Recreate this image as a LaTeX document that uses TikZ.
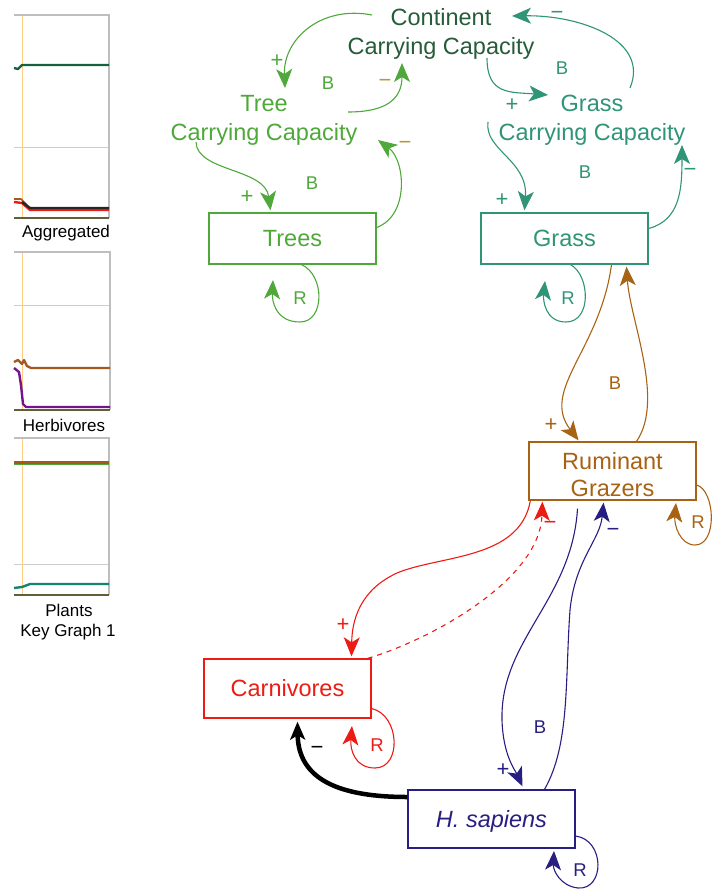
\documentclass[tikz,border=0pt]{standalone}
\usepackage{fontspec}
\setmainfont{Liberation Sans}
\usetikzlibrary{arrows.meta,calc}

\definecolor{contc}{RGB}{38,92,58}
\definecolor{treec}{RGB}{78,168,58}
\definecolor{grassc}{RGB}{48,148,118}
\definecolor{rumc}{RGB}{168,98,20}
\definecolor{carnc}{RGB}{236,28,20}
\definecolor{homoc}{RGB}{40,30,130}
\definecolor{olivec}{RGB}{176,156,56}
\definecolor{framec}{RGB}{190,190,190}
\definecolor{gridc}{RGB}{205,205,205}
\definecolor{timec}{RGB}{255,205,130}
\definecolor{plotgreen}{RGB}{20,98,62}
\definecolor{plotbrown}{RGB}{165,88,30}
\definecolor{plotpurple}{RGB}{118,20,140}
\definecolor{plotteal}{RGB}{22,130,118}
\definecolor{axisc}{RGB}{95,95,60}

\newcommand{\bigfont}{\fontsize{23.5}{29}\selectfont}
\newcommand{\smallfont}{\fontsize{17}{22}\selectfont}
\newcommand{\tagfont}{\fontsize{18.5}{22}\selectfont}
\newcommand{\signfont}{\fontsize{22}{22}\selectfont}

\begin{document}
\begin{tikzpicture}[x=1pt,y=-1pt,
  stockbox/.style={draw, line width=1.3pt, minimum width=167pt, inner sep=0pt, font=\bigfont, align=center},
  varlabel/.style={font=\bigfont, align=center, inner sep=0pt},
  conn/.style={line width=1.1pt, -{Stealth[length=19pt,width=16pt,inset=5pt]}},
  tag/.style={font=\tagfont, inner sep=0pt},
  sign/.style={font=\signfont, inner sep=0pt},
  graphlabel/.style={font=\smallfont, inner sep=0pt, align=center},
  plotline/.style={line width=2.4pt, line join=round}
]
\useasboundingbox (0,0) rectangle (712,890);

% ---------- small time-series panels on the left ----------
% Aggregated
\draw[gridc, line width=1pt] (14,148) -- (109,148);
\draw[timec, line width=1pt] (22.5,15) -- (22.5,218);
\draw[framec, line width=1.2pt] (14,15) -- (109,15) -- (109,218);
\draw[axisc, line width=1.2pt] (14,218) -- (109,218);
\draw[plotline, plotgreen] (14,68) -- (18,69) -- (22,65) -- (109,65);
\draw[plotline, carnc] (14,202) -- (22,203) -- (30,210) -- (109,210);
\draw[plotline, plotbrown, line width=1.6pt] (14,199) -- (21,199) -- (27,205);
\draw[plotline, black!85] (22,202) -- (30,208) -- (109,208);
\node[graphlabel] (lblagg) at (66,233) {Aggregated};

% Herbivores
\draw[gridc, line width=1pt] (14,305) -- (110,305);
\draw[timec, line width=1pt] (22.5,252) -- (22.5,410);
\draw[framec, line width=1.2pt] (14,252) -- (110,252) -- (110,410);
\draw[axisc, line width=1.2pt] (14,410) -- (110,410);
\draw[plotline, plotpurple] (14,368) -- (19,372) -- (21,385) -- (23,404) -- (26,407) -- (110,407);
\draw[plotline, plotbrown] (14,362) -- (18,360) -- (22,364) -- (24,360) -- (27,366) -- (31,368) -- (110,368);
\node[graphlabel] (lblherb) at (64,425) {Herbivores};

% Plants
\draw[gridc, line width=1pt] (14,564) -- (109,564);
\draw[timec, line width=1pt] (22.5,438) -- (22.5,595);
\draw[framec, line width=1.2pt] (14,438) -- (109,438) -- (109,595);
\draw[axisc, line width=1.2pt] (14,595) -- (109,595);
\draw[plotline, treec, line width=1.5pt] (14,464.5) -- (109,464.5);
\draw[plotline, plotbrown] (14,462.5) -- (109,462.5);
\draw[plotline, plotteal] (14,588) -- (22,587) -- (30,584) -- (109,584);
\node[graphlabel] (lblplants) at (69,610) {Plants};
\node[graphlabel] (lblkey) at (68,632) {Key Graph 1};

% ---------- stocks ----------
\node[stockbox, treec, minimum height=51pt] (trees) at (292.5,238.5) {Trees};
\node[stockbox, grassc, minimum height=51pt] (grass) at (564.5,238.5) {Grass};
\node[stockbox, rumc, minimum height=58pt, text height=50pt, text depth=0pt,
      font=\fontsize{23.5}{27}\selectfont] (rum) at (612.5,471) {Ruminant\\Grazers};
\node[stockbox, homoc, minimum height=58pt, text depth=0pt] (homo) at (491.5,819) {\itshape H. sapiens};
\node[stockbox, carnc, minimum height=59pt] (carn) at (287.5,688.5) {Carnivores};

% ---------- auxiliary variables ----------
\node[varlabel, contc] (contcc) at (441,34) {Continent\\Carrying Capacity};
\node[varlabel, treec] (treecc) at (264,120) {Tree\\Carrying Capacity};
\node[varlabel, grassc] (grasscc) at (592,120) {Grass\\Carrying Capacity};

% ---------- tree loop ----------
\draw[conn, treec] ($(contcc)+(-69,-19)$) .. controls (320,5) and (283,40) .. ($(treecc)+(21,-32)$);
\draw[conn, treec] ($(treecc)+(84,-8)$) .. controls (385,112) and (402,100) .. ($(contcc)+(-39,29)$);
\draw[conn, treec] ($(treecc)+(-68,22)$) .. controls (197,172) and (265,168) .. ($(trees.north)+(-22,-2)$);
\draw[conn, treec] ($(trees.east)+(0,-11)$) .. controls (410,215) and (405,160) .. ($(treecc)+(114,20)$);
\draw[conn, treec] ($(trees.south)+(9,0)$) .. controls (325,275) and (325,322) .. (300,322)
  .. controls (275,322) and (272,300) .. (273,280);

% ---------- grass loop ----------
\draw[conn, grassc] ($(contcc)+(46,24)$) .. controls (487,95) and (510,92) .. ($(grasscc)+(-44,-25)$);
\draw[conn, grassc] ($(grasscc)+(38,-32)$) .. controls (650,40) and (580,15) .. ($(contcc)+(71,-18)$);
\draw[conn, grassc] ($(grasscc)+(-104,2)$) .. controls (484,150) and (528,160) .. ($(grass.north)+(-40,-2)$);
\draw[conn, grassc] ($(grass.east)+(0,-10)$) .. controls (680,220) and (682,190) .. ($(grasscc)+(90,25)$);
\draw[conn, grassc] ($(grass.south)+(6,0)$) .. controls (590,275) and (592,322) .. (566,322)
  .. controls (545,322) and (543,300) .. (545,281);

% ---------- grazers ----------
\draw[conn, rumc] ($(grass.south)+(47,0)$) .. controls (600,350) and (540,390) .. ($(rum.north)+(-34,-1)$);
\draw[conn, rumc] ($(rum.north)+(24,0)$) .. controls (665,400) and (630,320) .. ($(grass.south)+(62,2)$);
\draw[conn, rumc] ($(rum.east)+(0,14)$) .. controls (715,490) and (718,545) .. (695,545)
  .. controls (680,545) and (674,525) .. (676,503);

% ---------- carnivores ----------
\draw[conn, carnc] ($(rum.south west)+(2,0)$) .. controls (520,560) and (440,555) .. (397,573)
  .. controls (360,590) and (352,620) .. ($(carn.north)+(64,-2)$);
\draw[conn, carnc, dashed, dash pattern=on 5pt off 5pt] ($(carn.north east)+(-4,0)$) .. controls (430,640) and (540,580) .. ($(rum.south west)+(14,1)$);
\draw[conn, carnc] ($(carn.east)+(0,20)$) .. controls (400,715) and (402,768) .. (375,768)
  .. controls (355,768) and (350,750) .. (352,726);

% ---------- humans ----------
\draw[conn, homoc] ($(rum.south)+(-35,8)$) .. controls (572,600) and (500,640) .. (502,720)
  .. controls (503,755) and (515,770) .. ($(homo.north)+(31,-3)$);
\draw[conn, homoc] ($(homo.north)+(53,0)$) .. controls (570,745) and (565,680) .. (570,610)
  .. controls (575,560) and (600,540) .. ($(rum.south)+(-9,2)$);
\draw[conn, homoc] ($(homo.east)+(0,17)$) .. controls (605,840) and (605,890) .. (578,888)
  .. controls (560,886) and (553,870) .. (554,851);
\draw[line width=4.5pt, black, -{Stealth[length=18pt,width=15pt,inset=4.5pt]}]
  ($(homo.west)+(0,-22)$) .. controls (340,797) and (298,780) .. ($(carn.south)+(10,3)$);

% ---------- polarity and loop tags ----------
\node[sign, treec] (p1) at (277,61) {+};
\node[tag, treec] (b1) at (328,83) {B};
\node[sign, olivec] (m1) at (385,83) {−};
\node[tag, treec] (b2) at (312,183) {B};
\node[sign, treec] (p2) at (247,197) {+};
\node[sign, olivec] (m2) at (405,145) {−};
\node[tag, treec] (r1) at (300,298) {R};

\node[tag, grassc] (b3) at (562,68) {B};
\node[sign, grassc] (m3) at (557,15) {−};
\node[sign, grassc] (p3) at (512,105) {+};
\node[tag, grassc] (b4) at (585,172) {B};
\node[sign, grassc] (p4) at (502,200) {+};
\node[sign, grassc] (m4) at (690,172) {−};
\node[tag, grassc] (r2) at (568,298) {R};

\node[sign, rumc] (p5) at (551,425) {+};
\node[tag, rumc] (b5) at (615,383) {B};
\node[tag, rumc] (r3) at (698,522) {R};

\node[sign, carnc] (p6) at (343,625) {+};
\node[sign, carnc] (m5) at (550,525) {−};
\node[tag, carnc] (r4) at (377,745) {R};

\node[sign, homoc] (p7) at (503,770) {+};
\node[sign, homoc] (m6) at (613,532) {−};
\node[tag, homoc] (b6) at (540,727) {B};
\node[tag, homoc] (r5) at (580,870) {R};

\node[sign, black] (m7) at (317,750) {−};
\end{tikzpicture}
\end{document}
